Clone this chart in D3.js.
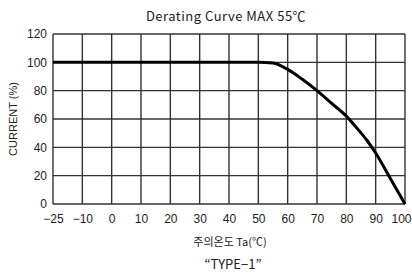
<!DOCTYPE html>
<html>
<head>
<meta charset="utf-8">
<script src="https://cdn.jsdelivr.net/npm/d3@7"></script>
<style>
  body { margin: 0; background: #fff; }
  text { font-family: "Noto Sans CJK KR", "Noto Sans", sans-serif; fill: #222; }
</style>
</head>
<body>
<div class="canvas"></div>
<script>
// data
const xTicks = [-25, -10, 0, 10, 20, 30, 40, 50, 60, 70, 80, 90, 100];
const yTicks = [0, 20, 40, 60, 80, 100, 120];
const temps = [-25, 50, 55, 60, 65, 70, 75, 80, 83, 87, 90, 95, 100];
const current = [100, 100, 99.5, 95, 88, 80, 71, 62, 55, 45, 36, 18, 0];

const svg = d3.select('.canvas')
  .append('svg')
  .attr('width', 412)
  .attr('height', 275);

// plot area
const margin = { top: 34, right: 7, bottom: 71, left: 53 };
const graphWidth = 412 - margin.left - margin.right;
const graphHeight = 275 - margin.top - margin.bottom;

const graph = svg.append('g')
  .attr('transform', `translate(${margin.left},${margin.top})`);

// x ticks are evenly spaced, not linear -> piecewise scale
const step = graphWidth / (xTicks.length - 1);
const x = d3.scaleLinear()
  .domain(xTicks)
  .range(xTicks.map((d, i) => i * step));

const y = d3.scaleLinear()
  .domain([0, 120])
  .range([graphHeight, 0]);

// grid
graph.selectAll('.vgrid')
  .data(xTicks)
  .enter()
  .append('line')
  .attr('x1', d => x(d)).attr('x2', d => x(d))
  .attr('y1', 0).attr('y2', graphHeight)
  .attr('stroke', '#333')
  .attr('stroke-width', 1.4);

graph.selectAll('.hgrid')
  .data(yTicks)
  .enter()
  .append('line')
  .attr('x1', 0).attr('x2', graphWidth)
  .attr('y1', d => y(d)).attr('y2', d => y(d))
  .attr('stroke', '#333')
  .attr('stroke-width', 1.4);

// axes
const xAxis = d3.axisBottom(x).tickValues(xTicks).tickSize(0).tickPadding(10);
const yAxis = d3.axisLeft(y).tickValues(yTicks).tickSize(0).tickPadding(6);

const xAxisGroup = graph.append('g')
  .attr('transform', `translate(0,${graphHeight})`)
  .call(xAxis);
const yAxisGroup = graph.append('g').call(yAxis);

[xAxisGroup, yAxisGroup].forEach(g => {
  g.select('.domain').remove();
  g.selectAll('text')
    .attr('font-size', 12)
    .style('font-family', '"Liberation Sans", Arial, sans-serif')
    .attr('fill', '#333');
});
xAxisGroup.selectAll('text').text(d => d < 0 ? '\u2212' + Math.abs(d) : d);
// last label would run off the edge
xAxisGroup.selectAll('text')
  .filter(d => d === 100)
  .attr('text-anchor', 'end')
  .attr('dx', 6);

// curve
const pts = temps.map((t, i) => [t, current[i]]);
const line = d3.line()
  .x(d => x(d[0]))
  .y(d => y(d[1]))
  .curve(d3.curveMonotoneX);

graph.append('path')
  .datum(pts)
  .attr('d', line)
  .attr('fill', 'none')
  .attr('stroke', '#000')
  .attr('stroke-width', 3);

// labels
svg.append('text')
  .attr('x', 226).attr('y', 21)
  .attr('text-anchor', 'middle')
  .attr('font-size', 13)
  .style('letter-spacing', '0.5px')
  .text('Derating Curve MAX 55\u2103');

svg.append('text')
  .attr('transform', 'translate(17,119) rotate(-90)')
  .attr('text-anchor', 'middle')
  .attr('font-size', 11)
  .attr('fill', '#333')
  .style('font-family', '"Liberation Sans", Arial, sans-serif')
  .text('CURRENT (%)');

svg.append('text')
  .attr('x', 230).attr('y', 246)
  .attr('text-anchor', 'middle')
  .attr('font-size', 11)
  .text('주의온도 Ta(\u2103)');

svg.append('text')
  .attr('x', 233).attr('y', 269)
  .attr('text-anchor', 'middle')
  .attr('font-size', 13)
  .text('\u201CTYPE\u22121\u201D');
</script>
</body>
</html>
